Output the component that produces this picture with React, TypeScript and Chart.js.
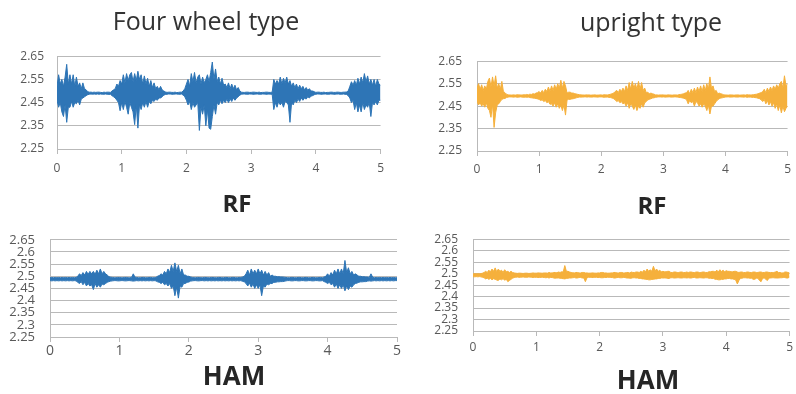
import { useEffect, useRef } from "react";
import { Chart, registerables } from "chart.js";

Chart.register(...registerables);

// EMG recordings over five seconds, stored as the highest and lowest
// voltage seen in each 25 ms bin, so the dense trace is drawn as a band.
const BIN_S = 0.025;

const timeTicks = [0, 1, 2, 3, 4, 5];
const voltTicksCoarse = [2.25, 2.35, 2.45, 2.55, 2.65];
const voltTicksFine = [2.25, 2.3, 2.35, 2.4, 2.45, 2.5, 2.55, 2.6, 2.65];

// Four wheel type, RF
const fourWheelRFMax = [
  2.52, 2.57, 2.53, 2.55, 2.52, 2.56, 2.615, 2.53,
  2.57, 2.53, 2.57, 2.52, 2.56, 2.52, 2.535, 2.51,
  2.535, 2.51, 2.505, 2.497, 2.495, 2.495, 2.494, 2.495,
  2.494, 2.495, 2.495, 2.494, 2.493, 2.495, 2.494, 2.495,
  2.495, 2.494, 2.50, 2.505, 2.51, 2.53, 2.52, 2.545,
  2.53, 2.57, 2.535, 2.575, 2.545, 2.57, 2.58, 2.54,
  2.575, 2.545, 2.585, 2.55, 2.57, 2.53, 2.565, 2.53,
  2.555, 2.52, 2.545, 2.515, 2.535, 2.51, 2.52, 2.505,
  2.52, 2.505, 2.50, 2.496, 2.494, 2.495, 2.495, 2.494,
  2.494, 2.495, 2.493, 2.494, 2.495, 2.495, 2.50, 2.51,
  2.53, 2.55, 2.52, 2.575, 2.54, 2.58, 2.535, 2.56,
  2.57, 2.53, 2.56, 2.535, 2.55, 2.57, 2.54, 2.58,
  2.625, 2.55, 2.595, 2.54, 2.56, 2.53, 2.555, 2.525,
  2.53, 2.515, 2.535, 2.51, 2.53, 2.51, 2.525, 2.505,
  2.515, 2.50, 2.495, 2.494, 2.494, 2.495, 2.495, 2.494,
  2.494, 2.495, 2.495, 2.494, 2.494, 2.495, 2.493, 2.494,
  2.494, 2.495, 2.495, 2.494, 2.494, 2.495, 2.55, 2.53,
  2.545, 2.53, 2.56, 2.53, 2.555, 2.535, 2.56, 2.53,
  2.545, 2.52, 2.535, 2.515, 2.53, 2.51, 2.525, 2.51,
  2.52, 2.505, 2.515, 2.503, 2.51, 2.50, 2.50, 2.497,
  2.494, 2.495, 2.495, 2.494, 2.494, 2.495, 2.493, 2.494,
  2.494, 2.495, 2.495, 2.494, 2.494, 2.495, 2.495, 2.494,
  2.494, 2.495, 2.495, 2.496, 2.50, 2.52, 2.54, 2.525,
  2.545, 2.525, 2.555, 2.53, 2.56, 2.535, 2.575, 2.54,
  2.565, 2.53, 2.55, 2.525, 2.55, 2.52, 2.55, 2.53,
  2.525,
];
const fourWheelRFMin = [
  2.46, 2.43, 2.45, 2.41, 2.39, 2.44, 2.365, 2.43,
  2.43, 2.455, 2.43, 2.45, 2.445, 2.46, 2.44, 2.465,
  2.47, 2.475, 2.48, 2.484, 2.486, 2.487, 2.486, 2.487,
  2.486, 2.487, 2.486, 2.487, 2.486, 2.486, 2.487, 2.486,
  2.485, 2.486, 2.48, 2.475, 2.47, 2.46, 2.45, 2.415,
  2.45, 2.42, 2.455, 2.43, 2.40, 2.45, 2.43, 2.41,
  2.355, 2.44, 2.34, 2.44, 2.42, 2.45, 2.43, 2.455,
  2.43, 2.455, 2.445, 2.46, 2.455, 2.465, 2.46, 2.47,
  2.47, 2.475, 2.482, 2.485, 2.486, 2.487, 2.487, 2.486,
  2.486, 2.487, 2.487, 2.486, 2.486, 2.487, 2.482, 2.475,
  2.46, 2.44, 2.455, 2.42, 2.45, 2.43, 2.44, 2.45,
  2.33, 2.43, 2.40, 2.44, 2.35, 2.42, 2.34, 2.335,
  2.39, 2.44, 2.40, 2.45, 2.44, 2.46, 2.445, 2.46,
  2.45, 2.465, 2.45, 2.465, 2.455, 2.47, 2.46, 2.47,
  2.475, 2.482, 2.486, 2.487, 2.487, 2.486, 2.486, 2.487,
  2.487, 2.486, 2.486, 2.487, 2.487, 2.486, 2.486, 2.487,
  2.487, 2.486, 2.486, 2.487, 2.486, 2.486, 2.42, 2.45,
  2.43, 2.455, 2.44, 2.45, 2.43, 2.455, 2.45, 2.44,
  2.365, 2.45, 2.44, 2.46, 2.45, 2.465, 2.455, 2.47,
  2.46, 2.47, 2.465, 2.475, 2.47, 2.478, 2.48, 2.484,
  2.486, 2.487, 2.487, 2.486, 2.486, 2.487, 2.487, 2.486,
  2.486, 2.487, 2.487, 2.486, 2.486, 2.487, 2.487, 2.486,
  2.486, 2.487, 2.486, 2.485, 2.48, 2.47, 2.45, 2.46,
  2.42, 2.45, 2.41, 2.44, 2.41, 2.45, 2.42, 2.44,
  2.43, 2.45, 2.39, 2.45, 2.44, 2.455, 2.44, 2.46,
  2.46,
];

// Upright type, RF
const uprightRFMax = [
  2.53, 2.55, 2.525, 2.545, 2.52, 2.54, 2.525, 2.56,
  2.575, 2.535, 2.58, 2.54, 2.585, 2.53, 2.55, 2.525,
  2.56, 2.515, 2.51, 2.503, 2.50, 2.50, 2.499, 2.50,
  2.50, 2.499, 2.501, 2.50, 2.50, 2.499, 2.501, 2.50,
  2.502, 2.50, 2.503, 2.502, 2.505, 2.504, 2.508, 2.51,
  2.515, 2.508, 2.52, 2.51, 2.525, 2.515, 2.535, 2.515,
  2.54, 2.52, 2.545, 2.525, 2.55, 2.53, 2.565, 2.53,
  2.56, 2.54, 2.508, 2.512, 2.512, 2.508, 2.508, 2.505,
  2.504, 2.502, 2.501, 2.50, 2.50, 2.499, 2.50, 2.50,
  2.50, 2.499, 2.499, 2.50, 2.50, 2.499, 2.499, 2.50,
  2.50, 2.499, 2.501, 2.50, 2.50, 2.501, 2.503, 2.505,
  2.508, 2.515, 2.52, 2.51, 2.525, 2.515, 2.53, 2.515,
  2.54, 2.52, 2.555, 2.525, 2.56, 2.53, 2.55, 2.525,
  2.56, 2.525, 2.555, 2.52, 2.53, 2.51, 2.512, 2.505,
  2.508, 2.505, 2.503, 2.50, 2.50, 2.499, 2.50, 2.50,
  2.50, 2.499, 2.499, 2.50, 2.50, 2.499, 2.499, 2.50,
  2.50, 2.499, 2.501, 2.502, 2.503, 2.505, 2.508, 2.51,
  2.52, 2.505, 2.525, 2.51, 2.53, 2.51, 2.535, 2.515,
  2.54, 2.515, 2.545, 2.52, 2.55, 2.525, 2.58, 2.53,
  2.54, 2.515, 2.52, 2.505, 2.508, 2.505, 2.503, 2.50,
  2.50, 2.499, 2.499, 2.50, 2.50, 2.499, 2.499, 2.50,
  2.50, 2.499, 2.499, 2.50, 2.50, 2.499, 2.501, 2.50,
  2.50, 2.50, 2.501, 2.502, 2.503, 2.505, 2.508, 2.51,
  2.515, 2.525, 2.51, 2.53, 2.515, 2.535, 2.52, 2.54,
  2.525, 2.545, 2.53, 2.55, 2.56, 2.53, 2.585, 2.54,
  2.55,
];
const uprightRFMin = [
  2.47, 2.455, 2.465, 2.45, 2.46, 2.445, 2.465, 2.44,
  2.43, 2.40, 2.46, 2.355, 2.42, 2.455, 2.46, 2.47,
  2.48, 2.483, 2.484, 2.488, 2.49, 2.491, 2.491, 2.49,
  2.49, 2.491, 2.489, 2.49, 2.491, 2.49, 2.489, 2.49,
  2.489, 2.49, 2.488, 2.487, 2.486, 2.485, 2.484, 2.482,
  2.48, 2.475, 2.478, 2.47, 2.475, 2.465, 2.47, 2.458,
  2.46, 2.45, 2.465, 2.445, 2.46, 2.44, 2.455, 2.43,
  2.455, 2.41, 2.478, 2.48, 2.48, 2.482, 2.483, 2.485,
  2.487, 2.489, 2.49, 2.49, 2.49, 2.491, 2.491, 2.49,
  2.491, 2.49, 2.49, 2.491, 2.491, 2.49, 2.49, 2.491,
  2.491, 2.49, 2.489, 2.49, 2.49, 2.489, 2.488, 2.486,
  2.483, 2.478, 2.47, 2.475, 2.465, 2.47, 2.46, 2.465,
  2.45, 2.465, 2.44, 2.46, 2.45, 2.435, 2.455, 2.43,
  2.45, 2.44, 2.46, 2.445, 2.465, 2.47, 2.478, 2.48,
  2.483, 2.486, 2.487, 2.489, 2.49, 2.491, 2.491, 2.49,
  2.491, 2.49, 2.49, 2.491, 2.491, 2.49, 2.49, 2.491,
  2.491, 2.49, 2.489, 2.488, 2.487, 2.485, 2.483, 2.478,
  2.46, 2.475, 2.465, 2.47, 2.45, 2.47, 2.465, 2.45,
  2.46, 2.445, 2.46, 2.45, 2.43, 2.455, 2.415, 2.45,
  2.45, 2.46, 2.47, 2.478, 2.483, 2.486, 2.487, 2.489,
  2.49, 2.491, 2.491, 2.49, 2.49, 2.491, 2.491, 2.49,
  2.49, 2.491, 2.491, 2.49, 2.49, 2.491, 2.489, 2.49,
  2.49, 2.489, 2.489, 2.488, 2.487, 2.485, 2.483, 2.478,
  2.47, 2.48, 2.46, 2.475, 2.455, 2.47, 2.45, 2.465,
  2.44, 2.46, 2.43, 2.455, 2.42, 2.45, 2.425, 2.44,
  2.45,
];

// Four wheel type, HAM
const fourWheelHAMMax = [
  2.494, 2.495, 2.494, 2.495, 2.494, 2.495, 2.494, 2.495,
  2.494, 2.495, 2.494, 2.495, 2.494, 2.495, 2.494, 2.495,
  2.50, 2.51, 2.503, 2.515, 2.505, 2.52, 2.508, 2.52,
  2.51, 2.52, 2.508, 2.525, 2.51, 2.53, 2.51, 2.52,
  2.51, 2.505, 2.498, 2.496, 2.495, 2.494, 2.494, 2.495,
  2.495, 2.494, 2.494, 2.495, 2.495, 2.494, 2.494, 2.495,
  2.51, 2.496, 2.495, 2.494, 2.494, 2.495, 2.495, 2.494,
  2.494, 2.495, 2.495, 2.494, 2.494, 2.495, 2.50, 2.503,
  2.51, 2.505, 2.52, 2.51, 2.53, 2.515, 2.545, 2.52,
  2.555, 2.52, 2.545, 2.51, 2.53, 2.505, 2.505, 2.50,
  2.50, 2.497, 2.495, 2.494, 2.494, 2.495, 2.495, 2.494,
  2.494, 2.495, 2.495, 2.494, 2.494, 2.495, 2.495, 2.494,
  2.494, 2.495, 2.495, 2.494, 2.494, 2.495, 2.495, 2.494,
  2.494, 2.495, 2.495, 2.494, 2.494, 2.495, 2.495, 2.497,
  2.50, 2.51, 2.525, 2.505, 2.53, 2.51, 2.525, 2.51,
  2.53, 2.51, 2.525, 2.505, 2.52, 2.505, 2.515, 2.50,
  2.505, 2.50, 2.50, 2.498, 2.498, 2.497, 2.497, 2.496,
  2.495, 2.494, 2.494, 2.495, 2.495, 2.494, 2.494, 2.495,
  2.495, 2.494, 2.494, 2.495, 2.495, 2.494, 2.494, 2.495,
  2.495, 2.494, 2.494, 2.495, 2.495, 2.494, 2.497, 2.50,
  2.51, 2.50, 2.515, 2.505, 2.525, 2.51, 2.53, 2.51,
  2.53, 2.51, 2.565, 2.515, 2.535, 2.51, 2.52, 2.505,
  2.51, 2.505, 2.50, 2.50, 2.498, 2.498, 2.497, 2.497,
  2.495, 2.51, 2.496, 2.494, 2.495, 2.494, 2.495, 2.494,
  2.495, 2.494, 2.495, 2.494, 2.495, 2.494, 2.495, 2.494,
  2.494,
];
const fourWheelHAMMin = [
  2.482, 2.481, 2.482, 2.481, 2.482, 2.481, 2.482, 2.481,
  2.482, 2.481, 2.482, 2.481, 2.482, 2.481, 2.482, 2.481,
  2.475, 2.47, 2.478, 2.465, 2.475, 2.46, 2.47, 2.46,
  2.465, 2.445, 2.47, 2.455, 2.465, 2.455, 2.468, 2.465,
  2.47, 2.475, 2.478, 2.48, 2.481, 2.482, 2.482, 2.481,
  2.481, 2.482, 2.482, 2.481, 2.481, 2.482, 2.482, 2.481,
  2.48, 2.481, 2.482, 2.481, 2.482, 2.481, 2.482, 2.481,
  2.482, 2.481, 2.482, 2.481, 2.482, 2.481, 2.477, 2.475,
  2.47, 2.475, 2.465, 2.47, 2.46, 2.47, 2.45, 2.46,
  2.42, 2.455, 2.41, 2.46, 2.455, 2.47, 2.47, 2.475,
  2.476, 2.48, 2.481, 2.482, 2.482, 2.481, 2.481, 2.482,
  2.482, 2.481, 2.482, 2.481, 2.482, 2.481, 2.482, 2.481,
  2.482, 2.481, 2.482, 2.481, 2.482, 2.481, 2.482, 2.481,
  2.482, 2.481, 2.482, 2.481, 2.482, 2.481, 2.482, 2.479,
  2.477, 2.47, 2.46, 2.472, 2.455, 2.468, 2.45, 2.465,
  2.45, 2.465, 2.42, 2.46, 2.455, 2.468, 2.465, 2.47,
  2.47, 2.475, 2.475, 2.477, 2.477, 2.478, 2.478, 2.479,
  2.481, 2.482, 2.482, 2.481, 2.481, 2.482, 2.482, 2.481,
  2.481, 2.482, 2.482, 2.481, 2.481, 2.482, 2.482, 2.481,
  2.481, 2.482, 2.482, 2.481, 2.481, 2.482, 2.478, 2.475,
  2.47, 2.475, 2.465, 2.47, 2.455, 2.468, 2.45, 2.465,
  2.45, 2.465, 2.44, 2.46, 2.445, 2.46, 2.455, 2.465,
  2.47, 2.472, 2.475, 2.477, 2.477, 2.478, 2.478, 2.48,
  2.481, 2.48, 2.481, 2.482, 2.481, 2.482, 2.481, 2.482,
  2.481, 2.482, 2.481, 2.482, 2.481, 2.482, 2.481, 2.482,
  2.482,
];

// Upright type, HAM
const uprightHAMMax = [
  2.499, 2.50, 2.499, 2.50, 2.499, 2.50, 2.502, 2.505,
  2.51, 2.505, 2.515, 2.508, 2.52, 2.51, 2.525, 2.508,
  2.52, 2.51, 2.515, 2.505, 2.517, 2.508, 2.51, 2.505,
  2.51, 2.505, 2.503, 2.502, 2.501, 2.502, 2.502, 2.501,
  2.501, 2.502, 2.502, 2.501, 2.501, 2.502, 2.503, 2.502,
  2.502, 2.503, 2.503, 2.502, 2.502, 2.503, 2.503, 2.502,
  2.505, 2.503, 2.503, 2.505, 2.505, 2.504, 2.507, 2.505,
  2.508, 2.507, 2.535, 2.51, 2.51, 2.507, 2.505, 2.504,
  2.503, 2.505, 2.505, 2.503, 2.503, 2.505, 2.505, 2.503,
  2.503, 2.502, 2.502, 2.503, 2.503, 2.502, 2.502, 2.503,
  2.503, 2.505, 2.505, 2.503, 2.503, 2.502, 2.502, 2.503,
  2.503, 2.505, 2.505, 2.503, 2.503, 2.505, 2.505, 2.503,
  2.503, 2.505, 2.505, 2.503, 2.507, 2.505, 2.505, 2.507,
  2.507, 2.505, 2.51, 2.506, 2.515, 2.508, 2.52, 2.51,
  2.517, 2.51, 2.532, 2.512, 2.52, 2.51, 2.515, 2.508,
  2.51, 2.508, 2.508, 2.51, 2.51, 2.505, 2.505, 2.507,
  2.507, 2.505, 2.505, 2.507, 2.507, 2.505, 2.505, 2.507,
  2.505, 2.507, 2.507, 2.505, 2.505, 2.507, 2.507, 2.505,
  2.505, 2.507, 2.507, 2.505, 2.505, 2.508, 2.508, 2.51,
  2.51, 2.507, 2.515, 2.508, 2.517, 2.509, 2.515, 2.508,
  2.513, 2.51, 2.51, 2.508, 2.508, 2.51, 2.51, 2.507,
  2.505, 2.507, 2.507, 2.505, 2.505, 2.507, 2.507, 2.505,
  2.505, 2.507, 2.507, 2.505, 2.505, 2.507, 2.507, 2.505,
  2.505, 2.507, 2.507, 2.505, 2.505, 2.505, 2.505, 2.507,
  2.51, 2.505, 2.505, 2.503, 2.503, 2.507, 2.507, 2.505,
  2.503,
];
const uprightHAMMin = [
  2.487, 2.486, 2.487, 2.486, 2.487, 2.486, 2.484, 2.482,
  2.477, 2.48, 2.475, 2.479, 2.473, 2.478, 2.475, 2.472,
  2.47, 2.477, 2.473, 2.478, 2.471, 2.476, 2.465, 2.47,
  2.475, 2.48, 2.483, 2.484, 2.485, 2.484, 2.484, 2.485,
  2.485, 2.484, 2.484, 2.485, 2.485, 2.484, 2.483, 2.484,
  2.484, 2.483, 2.483, 2.484, 2.484, 2.483, 2.482, 2.483,
  2.481, 2.483, 2.483, 2.481, 2.48, 2.481, 2.481, 2.48,
  2.479, 2.478, 2.477, 2.479, 2.48, 2.481, 2.481, 2.482,
  2.483, 2.481, 2.481, 2.483, 2.483, 2.481, 2.481, 2.465,
  2.482, 2.484, 2.484, 2.483, 2.483, 2.484, 2.484, 2.483,
  2.483, 2.482, 2.482, 2.483, 2.483, 2.484, 2.484, 2.483,
  2.483, 2.481, 2.481, 2.483, 2.483, 2.482, 2.482, 2.483,
  2.483, 2.481, 2.481, 2.48, 2.48, 2.482, 2.482, 2.481,
  2.481, 2.479, 2.479, 2.477, 2.477, 2.475, 2.475, 2.473,
  2.473, 2.475, 2.475, 2.477, 2.477, 2.479, 2.479, 2.481,
  2.481, 2.481, 2.481, 2.479, 2.479, 2.482, 2.482, 2.481,
  2.481, 2.482, 2.482, 2.481, 2.481, 2.482, 2.482, 2.481,
  2.482, 2.481, 2.481, 2.483, 2.483, 2.481, 2.481, 2.482,
  2.482, 2.481, 2.481, 2.482, 2.482, 2.48, 2.48, 2.479,
  2.479, 2.475, 2.475, 2.473, 2.473, 2.475, 2.475, 2.477,
  2.477, 2.479, 2.479, 2.477, 2.477, 2.475, 2.472, 2.455,
  2.47, 2.48, 2.48, 2.482, 2.482, 2.481, 2.481, 2.48,
  2.48, 2.475, 2.475, 2.48, 2.48, 2.47, 2.465, 2.48,
  2.481, 2.475, 2.47, 2.481, 2.481, 2.482, 2.482, 2.481,
  2.481, 2.481, 2.482, 2.482, 2.483, 2.483, 2.481, 2.481,
  2.485,
];

const BLUE = "#2e75b6";
const GOLD = "#f5b03c";
const GRID = "#b9b9b9";
const TICK_TEXT = "#595959";
const FONT = "'Open Sans', 'Liberation Sans', sans-serif";

type PanelSpec = {
  upper: number[];
  lower: number[];
  color: string;
  yTicks: number[];
  left: number;
  top: number;
  width: number;
  height: number;
  yAxisWidth: number;
  yLabelPad: number;
  yFontSize: number;
  xLabelPad: number;
  xFontSize: number;
};

const panels: PanelSpec[] = [
  { upper: fourWheelRFMax, lower: fourWheelRFMin, color: BLUE, yTicks: voltTicksCoarse, left: 7, top: 36, width: 384, height: 143, yAxisWidth: 50, yLabelPad: 13, yFontSize: 12, xLabelPad: 7, xFontSize: 12 },
  { upper: uprightRFMax, lower: uprightRFMin, color: GOLD, yTicks: voltTicksCoarse, left: 427, top: 39, width: 370, height: 142, yAxisWidth: 50, yLabelPad: 15, yFontSize: 12, xLabelPad: 6, xFontSize: 12 },
  { upper: fourWheelHAMMax, lower: fourWheelHAMMin, color: BLUE, yTicks: voltTicksFine, left: 4, top: 217, width: 399, height: 150, yAxisWidth: 46, yLabelPad: 15, yFontSize: 13, xLabelPad: 1, xFontSize: 14 },
  { upper: uprightHAMMax, lower: uprightHAMMin, color: GOLD, yTicks: voltTicksFine, left: 423, top: 217, width: 374, height: 144, yAxisWidth: 50, yLabelPad: 15, yFontSize: 12, xLabelPad: 4, xFontSize: 12 },
];

type TextSpec = { text: string; cx: number; cy: number; size: number; bold: boolean };

const captions: TextSpec[] = [
  { text: "Four wheel type", cx: 206, cy: 21, size: 25, bold: false },
  { text: "upright type", cx: 651, cy: 22, size: 25, bold: false },
  { text: "RF", cx: 237, cy: 203.5, size: 24, bold: true },
  { text: "RF", cx: 652, cy: 205.5, size: 24, bold: true },
  { text: "HAM", cx: 234, cy: 376, size: 26, bold: true },
  { text: "HAM", cx: 648, cy: 379.5, size: 26, bold: true },
];

function SignalPanel({ spec }: { spec: PanelSpec }) {
  const canvasRef = useRef<HTMLCanvasElement | null>(null);

  useEffect(() => {
    const canvas = canvasRef.current;
    if (!canvas) return;
    const toPoints = (arr: number[]) => arr.map((v, i) => ({ x: i * BIN_S, y: v }));
    const chart = new Chart(canvas, {
      type: "line",
      data: {
        datasets: [
          {
            label: "min",
            data: toPoints(spec.lower),
            borderColor: spec.color,
            backgroundColor: spec.color,
            borderWidth: 1,
            pointRadius: 0,
            tension: 0,
            fill: false,
          },
          {
            label: "max",
            data: toPoints(spec.upper),
            borderColor: spec.color,
            backgroundColor: spec.color,
            borderWidth: 1,
            pointRadius: 0,
            tension: 0,
            fill: "-1",
          },
        ],
      },
      options: {
        responsive: false,
        animation: false,
        events: [],
        layout: { padding: { top: 10, right: 6, left: 0, bottom: 0 } },
        plugins: {
          legend: { display: false },
          tooltip: { enabled: false },
          title: { display: false },
          filler: { propagate: false },
        },
        scales: {
          x: {
            type: "linear",
            min: 0,
            max: 5,
            afterBuildTicks: (scale: any) => {
              scale.ticks = timeTicks.map((v) => ({ value: v }));
            },
            afterFit: (scale: any) => {
              scale.height = 30;
            },
            ticks: {
              callback: (v: any) => String(v),
              color: TICK_TEXT,
              font: { family: FONT, size: spec.xFontSize },
              padding: spec.xLabelPad,
              maxRotation: 0,
              autoSkip: false,
            },
            grid: { drawOnChartArea: false, drawTicks: true, tickLength: 5, color: GRID, lineWidth: 1 },
            border: { display: true, color: GRID, width: 1 },
          },
          y: {
            type: "linear",
            min: 2.25,
            max: 2.65,
            afterBuildTicks: (scale: any) => {
              scale.ticks = spec.yTicks.map((v) => ({ value: v }));
            },
            afterFit: (scale: any) => {
              scale.width = spec.yAxisWidth;
            },
            ticks: {
              callback: (v: any) => String(v),
              color: TICK_TEXT,
              font: { family: FONT, size: spec.yFontSize },
              padding: spec.yLabelPad,
              autoSkip: false,
            },
            grid: { drawTicks: false, color: GRID, lineWidth: 1 },
            border: { display: true, color: GRID, width: 1 },
          },
        },
      },
    });
    return () => chart.destroy();
  }, [spec]);

  return (
    <canvas
      ref={canvasRef}
      width={spec.width}
      height={spec.height}
      style={{ position: "absolute", left: spec.left, top: spec.top, width: spec.width, height: spec.height, display: "block" }}
    />
  );
}

function Caption({ spec }: { spec: TextSpec }) {
  return (
    <div
      style={{
        position: "absolute",
        left: spec.cx - 150,
        width: 300,
        top: spec.cy - spec.size * 0.53,
        textAlign: "center",
        fontFamily: FONT,
        fontSize: spec.size,
        lineHeight: 1,
        fontWeight: spec.bold ? 700 : 400,
        color: spec.bold ? "#262626" : "#333333",
        whiteSpace: "nowrap",
        pointerEvents: "none",
      }}
    >
      {spec.text}
    </div>
  );
}

export default function App() {
  return (
    <div
      style={{
        position: "fixed",
        left: 0,
        top: 0,
        width: 796,
        height: 394,
        overflow: "hidden",
        background: "#ffffff",
      }}
    >
      {panels.map((p, i) => (
        <SignalPanel key={i} spec={p} />
      ))}
      {captions.map((c, i) => (
        <Caption key={i} spec={c} />
      ))}
    </div>
  );
}
